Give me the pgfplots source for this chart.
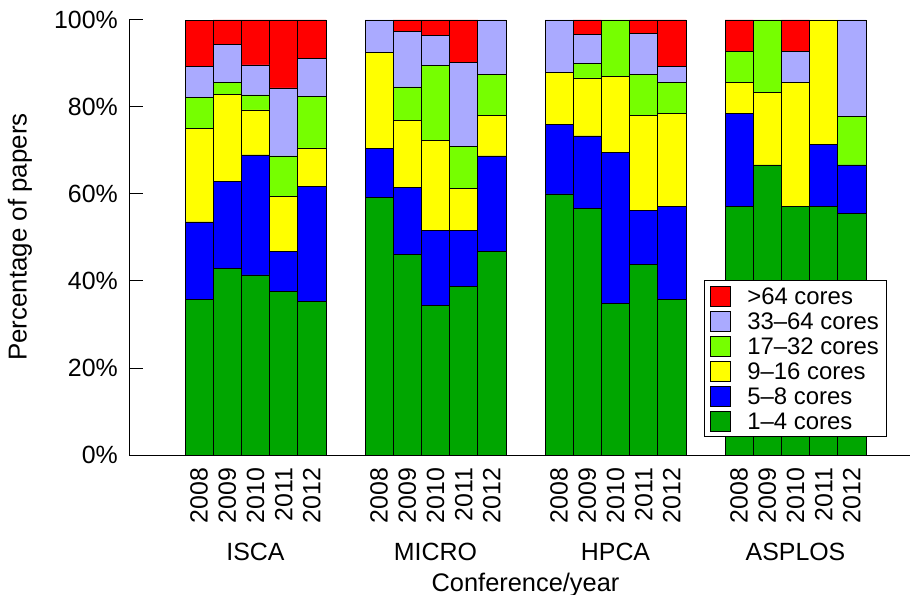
\documentclass[border=0pt]{standalone}
\usepackage{fontspec}
\setmainfont{Liberation Sans}
\usepackage{pgfplots}
\usepackage{pgfplotstable}
\pgfplotsset{compat=1.18}
\definecolor{cgreen}{RGB}{0,166,0}
\definecolor{cblue}{RGB}{0,0,255}
\definecolor{cyellow}{RGB}{255,255,0}
\definecolor{clgreen}{RGB}{118,255,0}
\definecolor{clav}{RGB}{170,170,255}
\definecolor{cred}{RGB}{255,0,0}

% x = bar centre position, values in percent of papers
\pgfplotstableread{
x     g      b      y      lg     lav    r
199.1 35.71  17.86  21.43  7.14   7.14   10.71
227.3 42.86  20.00  20.00  2.86   8.57   5.71
255.5 41.38  27.59  10.34  3.45   6.90   10.34
283.7 37.50  9.375  12.50  9.375  15.625 15.625
311.9 35.29  26.47  8.82   11.76  8.82   8.84
379.1 59.26  11.11  22.22  0      7.41   0
407.3 46.15  15.38  15.38  7.69   12.82  2.58
435.5 34.48  17.24  20.69  17.24  6.90   3.45
463.7 38.71  12.90  9.68   9.68   19.35  9.68
491.9 46.875 21.875 9.375  9.375  12.50  0
559.1 60.00  16.00  12.00  0      12.00  0
587.3 56.67  16.67  13.33  3.33   6.67   3.33
615.5 34.78  34.78  17.39  13.05  0      0
643.7 43.75  12.50  21.875 9.375  9.375  3.125
671.9 35.71  21.43  21.43  7.14   3.57   10.72
739.1 57.14  21.43  7.14   7.14   0      7.15
767.3 66.67  0      16.67  16.66  0      0
795.5 57.14  0      28.57  0      7.14   7.15
823.7 57.14  14.29  28.57  0      0      0
851.9 55.56  11.11  0      11.11  22.22  0
}\data

\pgfplotsset{
  mb/.style={fill=#1, draw=black, line width=0.8bp,
    legend image code/.code={\draw[fill=#1, draw=black, line width=0.8bp] (0bp,-10bp) rectangle (20bp,10bp);}},
}

\begin{document}
\begin{tikzpicture}[font=\fontsize{25}{30}\selectfont]
\path[use as bounding box] (0,0) rectangle (910bp,595bp);
\begin{axis}[
  at={(129bp,140bp)}, anchor=south west,
  scale only axis, width=781bp, height=435bp,
  xmin=129, xmax=910, ymin=0, ymax=100,
  clip=false,
  axis lines=left,
  axis line style={-, line width=1bp, black},
  ybar stacked, bar width=28.2,
  xtick=data,
  xticklabels={2008,2009,2010,2011,2012,2008,2009,2010,2011,2012,2008,2009,2010,2011,2012,2008,2009,2010,2011,2012},
  xticklabel style={rotate=90, anchor=east, inner sep=0pt},
  xticklabel shift=12.7bp,
  xtick style={draw=none},
  ytick={0,20,40,60,80,100},
  yticklabels={0\%,20\%,40\%,60\%,80\%,100\%},
  yticklabel style={inner xsep=0pt},
  yticklabel shift=11bp,
  tick align=inside,
  major tick length=14bp,
  ytick style={line width=1bp, black},
  xlabel={Conference/year},
  xlabel style={at={(axis description cs:0.5077,0)}, yshift=-136bp, anchor=base, font=\fontsize{25.5}{30}\selectfont},
  ylabel={Percentage of papers},
  ylabel style={at={(axis description cs:-0.1396,0.501)}, anchor=center, font=\fontsize{26}{30}\selectfont},
  reverse legend,
  legend style={at={(0.736,0.402)}, anchor=north west,
    draw=black, line width=1bp, fill=white,
    font=\fontsize{24}{26}\selectfont,
    inner xsep=5.6bp, inner ysep=4.8bp,
    row sep=4.1bp, column sep=14.2bp,
    cells={anchor=west},
    nodes={inner xsep=2.4bp, inner ysep=2bp, text height=17bp, text depth=0bp}},
]
\addplot[mb=cgreen]  table[x=x, y=g]   {\data};
\addplot[mb=cblue]   table[x=x, y=b]   {\data};
\addplot[mb=cyellow] table[x=x, y=y]   {\data};
\addplot[mb=clgreen] table[x=x, y=lg]  {\data};
\addplot[mb=clav]    table[x=x, y=lav] {\data};
\addplot[mb=cred]    table[x=x, y=r]   {\data};
\legend{1--4 cores, 5--8 cores, 9--16 cores, 17--32 cores, 33--64 cores, >64 cores}
\node[yshift=-96.7bp] at (axis cs:255.5,0) {ISCA};
\node[yshift=-96.7bp] at (axis cs:435.5,0) {MICRO};
\node[yshift=-96.7bp] at (axis cs:615.5,0) {HPCA};
\node[yshift=-96.7bp] at (axis cs:795.5,0) {ASPLOS};
\end{axis}
\end{tikzpicture}
\end{document}
